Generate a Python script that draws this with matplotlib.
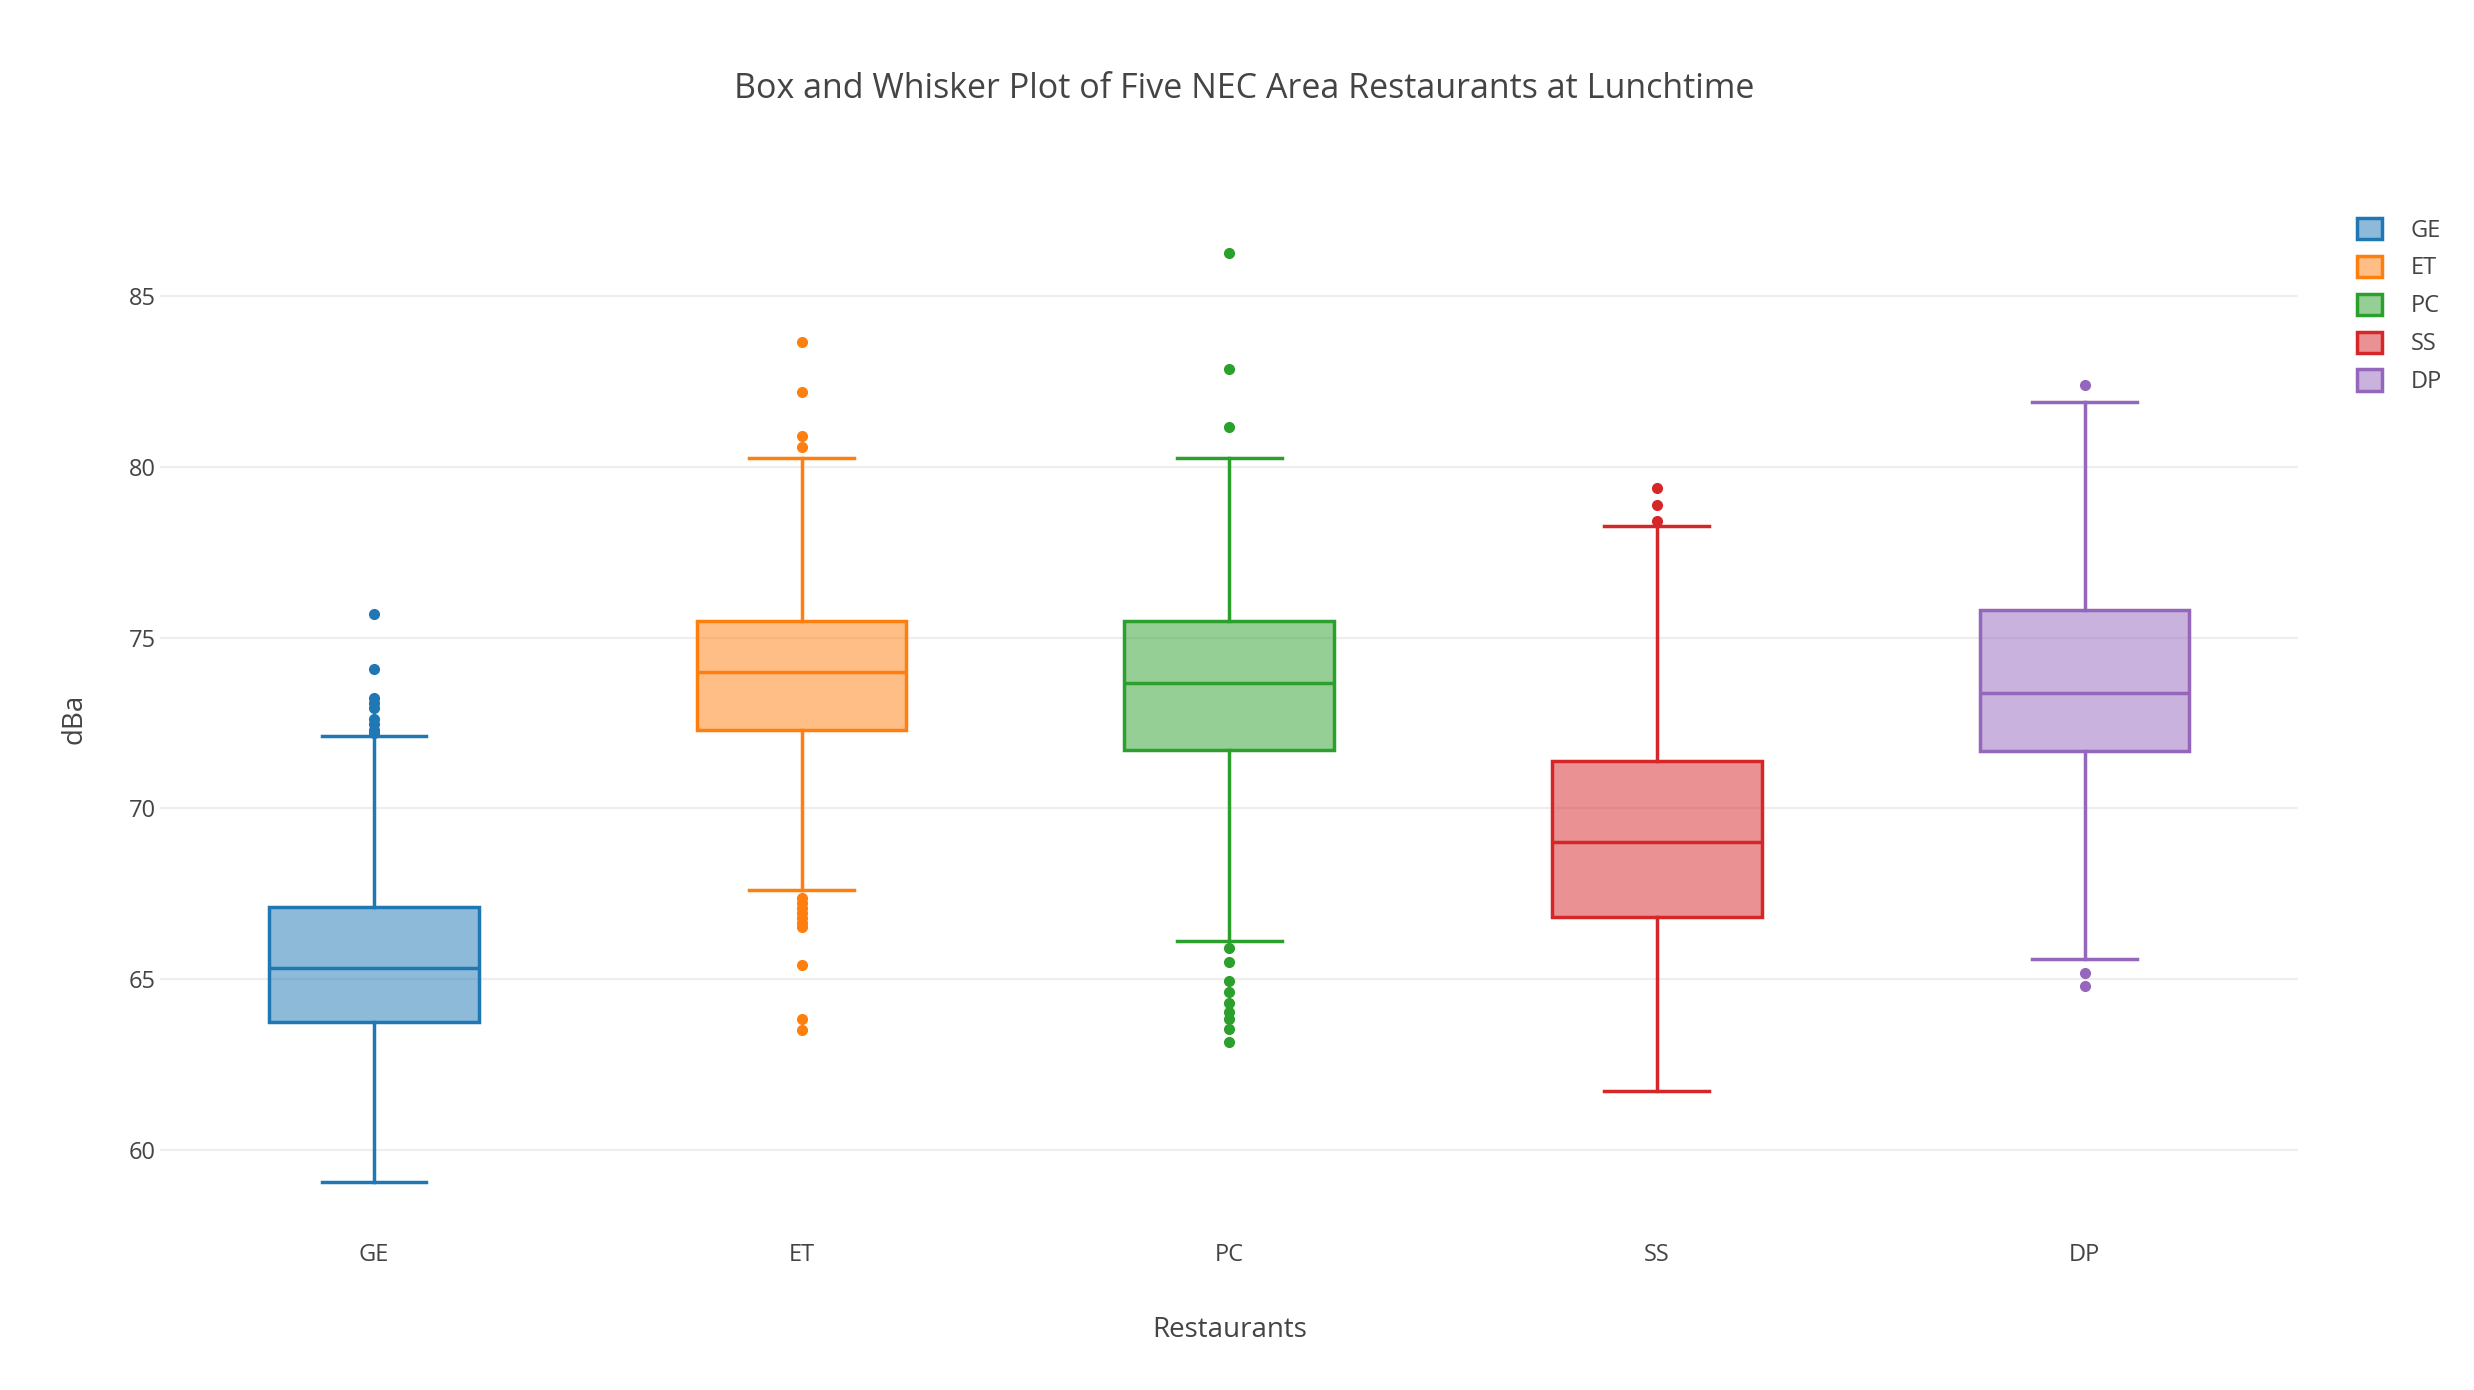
import matplotlib.pyplot as plt
from matplotlib.patches import Patch

restaurants = ['GE', 'ET', 'PC', 'SS', 'DP']
colors = ['#1f77b4', '#ff7f0e', '#2ca02c', '#d62728', '#9467bd']

# box statistics (dBa)
q1 = [63.73, 72.31, 71.70, 66.81, 71.67]
medians = [65.32, 74.00, 73.68, 69.01, 73.39]
q3 = [67.12, 75.49, 75.49, 71.39, 75.81]
whisker_low = [59.05, 67.61, 66.11, 61.71, 65.60]
whisker_high = [72.11, 80.28, 80.28, 78.28, 81.90]

fliers_ge = [75.70, 74.09, 73.22, 73.10, 72.93, 72.62, 72.48, 72.31, 72.21]
fliers_et = [83.68, 82.19, 80.90, 80.59, 67.36, 67.22, 67.07, 66.93, 66.79,
             66.64, 66.52, 65.42, 63.82, 63.51]
fliers_pc = [86.28, 82.88, 81.18, 65.92, 65.51, 64.93, 64.62, 64.31, 64.04,
             63.82, 63.53, 63.14]
fliers_ss = [79.39, 78.89, 78.42]
fliers_dp = [82.40, 65.19, 64.79]
fliers = [fliers_ge, fliers_et, fliers_pc, fliers_ss, fliers_dp]

plt.rcParams['font.family'] = ['Open Sans', 'DejaVu Sans']
text_color = '#444444'

fig = plt.figure(figsize=(24.74, 13.90), dpi=100)
ax = fig.add_axes([0.0647, 0.114, 0.8643, 0.739])

positions = list(range(len(restaurants)))
for i, name in enumerate(restaurants):
    stats = [{
        'label': name,
        'q1': q1[i], 'med': medians[i], 'q3': q3[i],
        'whislo': whisker_low[i], 'whishi': whisker_high[i],
        'fliers': fliers[i],
    }]
    c = colors[i]
    ax.bxp(stats, positions=[i], widths=0.49, patch_artist=True,
           boxprops=dict(facecolor=c + '80', edgecolor=c, linewidth=2.5),
           medianprops=dict(color=c, linewidth=2.5),
           whiskerprops=dict(color=c, linewidth=2.5),
           capprops=dict(color=c, linewidth=2.5),
           capwidths=0.245,
           flierprops=dict(marker='o', markerfacecolor=c, markeredgecolor=c,
                           markersize=7, linestyle='none'),
           manage_ticks=False, zorder=3)

ax.set_xlim(-0.5, 4.5)
ax.set_ylim(57.6, 87.7)
ax.set_xticks(positions)
ax.set_xticklabels(restaurants)
ax.set_yticks([60, 65, 70, 75, 80, 85])
ax.grid(axis='y', color='#eeeeee', linewidth=1.6, zorder=0)
ax.set_axisbelow(True)
for s in ax.spines.values():
    s.set_visible(False)
ax.tick_params(axis='both', length=0, labelsize=17, colors=text_color)
ax.tick_params(axis='x', pad=8)
ax.tick_params(axis='y', pad=3)

fig.text(0.503, 0.936, 'Box and Whisker Plot of Five NEC Area Restaurants at Lunchtime',
         ha='center', va='center', fontsize=24.5, color=text_color)
fig.text(0.497, 0.043, 'Restaurants', ha='center', va='center',
         fontsize=20, color=text_color)
fig.text(0.030, 0.483, 'dBa', ha='center', va='center', rotation=90,
         fontsize=20, color=text_color)

handles = [Patch(facecolor=c + '80', edgecolor=c, linewidth=2.5) for c in colors]
fig.legend(handles, restaurants, loc='upper left', bbox_to_anchor=(0.949, 0.85),
           frameon=False, fontsize=17, labelcolor=text_color,
           handlelength=1.05, handleheight=1.0, handletextpad=1.2,
           labelspacing=0.56, borderaxespad=0)

fig.savefig('out.png', dpi=100)
